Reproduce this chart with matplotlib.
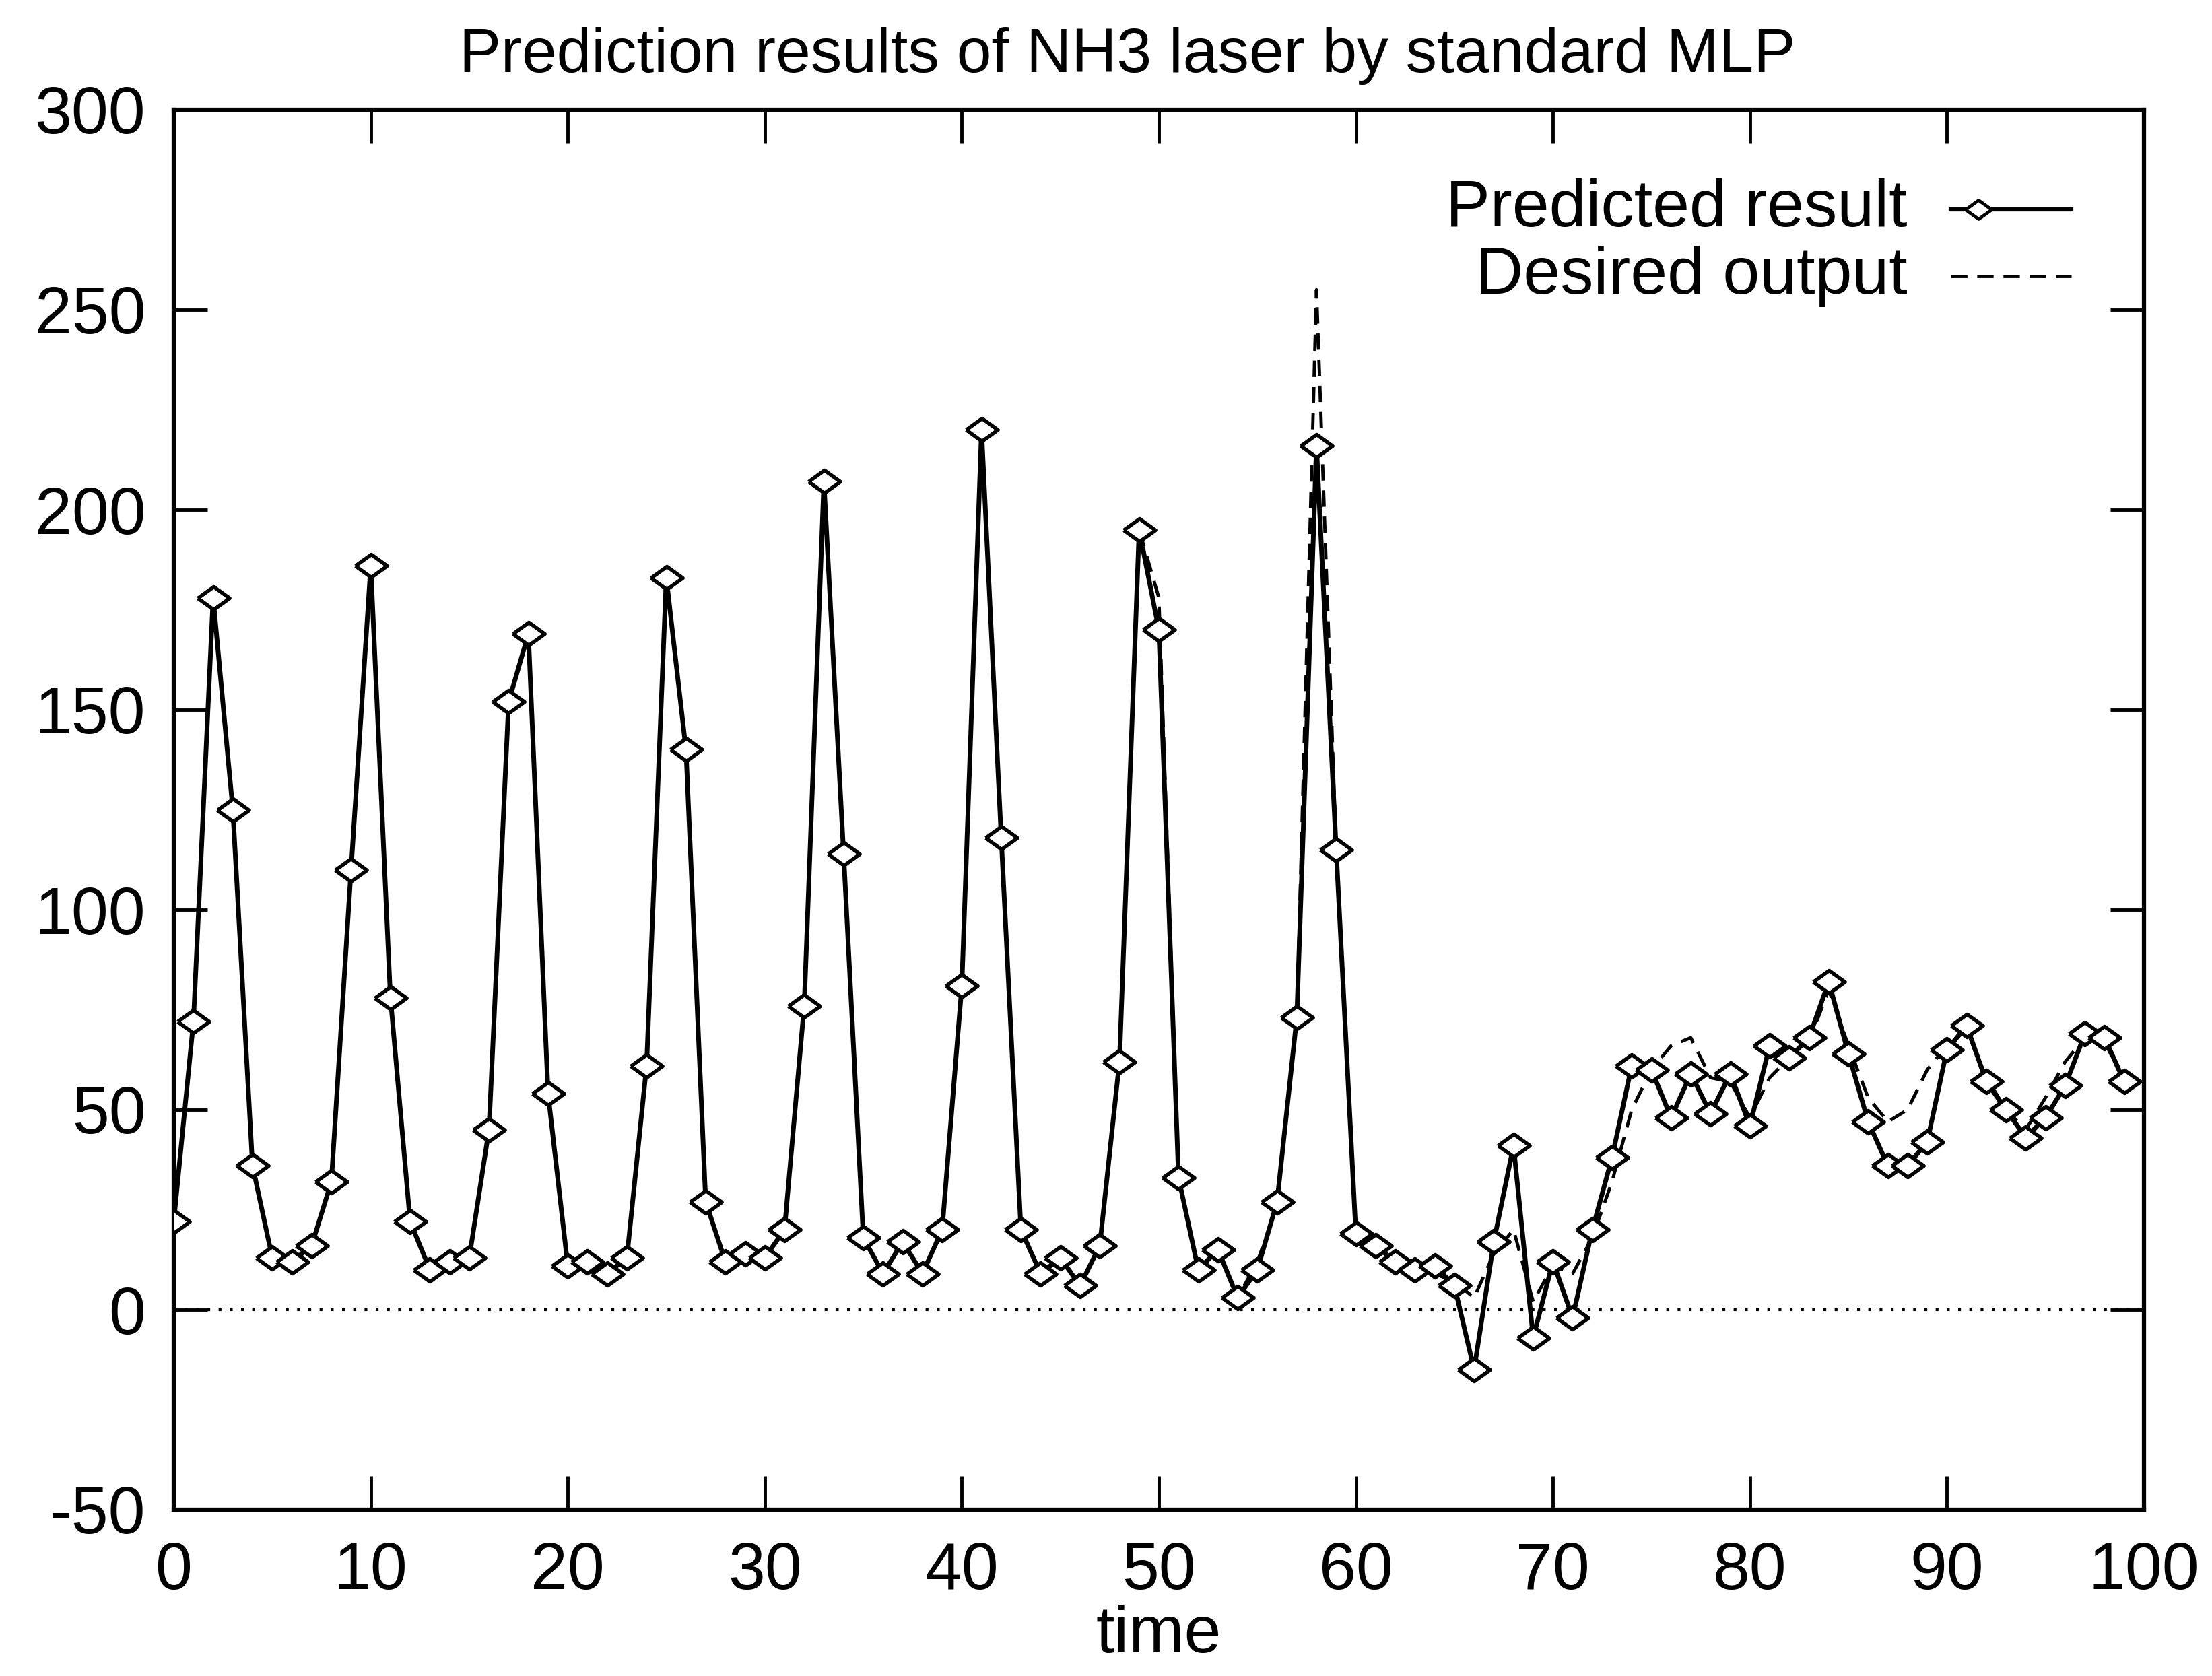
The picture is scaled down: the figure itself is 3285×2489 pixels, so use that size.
import matplotlib
matplotlib.use("Agg")
import matplotlib.pyplot as plt
import numpy as np

title = "Prediction results of NH3 laser by standard MLP"
xlabel = "time"
label_pred = "Predicted result"
label_des = "Desired output"
xticks = [0, 10, 20, 30, 40, 50, 60, 70, 80, 90, 100]
yticks = [-50, 0, 50, 100, 150, 200, 250, 300]

time = list(range(100))

predicted = [22, 72, 178, 125, 36, 13, 12, 16, 32, 110,
             186, 78, 22, 10, 12, 13, 45, 152, 169, 54,
             11, 12, 9, 13, 61, 183, 140, 27, 12, 14,
             13, 20, 76, 207, 114, 18, 9, 17, 9, 20,
             81, 220, 118, 20, 9, 13, 6, 16, 62, 195,
             170, 33, 10, 15, 3, 10, 27, 73, 216, 115,
             19, 16, 12, 10, 11, 6, -15, 17, 41, -7,
             12, -2, 20, 38, 61, 60, 48, 59, 49, 59,
             46, 66, 63, 68, 82, 64, 47, 36, 36, 42,
             65, 71, 57, 50, 43, 48, 56, 69, 68, 57]

desired = [22, 72, 178, 125, 36, 13, 12, 16, 32, 110,
           186, 78, 22, 10, 12, 13, 45, 152, 169, 54,
           11, 12, 9, 13, 61, 183, 140, 27, 12, 14,
           13, 20, 76, 207, 114, 18, 9, 17, 9, 20,
           81, 220, 118, 20, 9, 13, 6, 16, 62, 195,
           178, 33, 10, 15, 3, 12, 26, 73, 255, 115,
           18, 14, 11, 9, 9, 7, 3, 14, 20, 2,
           11, 9, 18, 32, 50, 60, 66, 68, 58, 57,
           48, 58, 63, 67, 80, 66, 53, 47, 50, 60,
           66, 70, 58, 50, 45, 53, 62, 68, 67, 57]

plt.rcParams['font.family'] = ['Liberation Sans', 'DejaVu Sans']
plt.rcParams['axes.unicode_minus'] = False

W, H, DPI = 3285, 2489, 100
fig = plt.figure(figsize=(W / DPI, H / DPI), dpi=DPI)
ax = fig.add_axes([258 / W, 1 - 2242 / H, (3184 - 258) / W, (2242 - 163) / H])

# zero axis (dotted)
ax.axhline(0, color='black', lw=3, linestyle=(0, (1, 3)), zorder=1)

# desired output (dashed)
ax.plot(time, desired, color='black', lw=3.5, linestyle=(0, (5, 3)), zorder=2)

# diamond marker slightly wider than tall
diamond = [(-1.0, 0.0), (0.0, 0.72), (1.0, 0.0), (0.0, -0.72), (-1.0, 0.0)]

ax.plot(time, predicted, color='black', lw=5, marker=diamond, markersize=34,
        markerfacecolor='white', markeredgecolor='black', markeredgewidth=4,
        zorder=3)

ax.set_xlim(0, 100)
ax.set_ylim(-50, 300)
ax.set_xticks(xticks)
ax.set_yticks(yticks)
ax.tick_params(direction='in', length=36, width=3.5, top=True, right=True,
               labelsize=71, pad=30)
ax.tick_params(axis='x', pad=34)
for s in ax.spines.values():
    s.set_linewidth(4.5)

ax.set_title(title, fontsize=67, pad=40, x=0.484)
ax.set_xlabel(xlabel, fontsize=71, labelpad=2)

# key (gnuplot style, top right)
tr = ax.transAxes
ax.text(0.880, 0.929, label_pred, transform=tr, ha='right', va='center', fontsize=71)
ax.text(0.880, 0.881, label_des, transform=tr, ha='right', va='center', fontsize=71)
ax.plot([0.902, 0.963], [0.929, 0.929], transform=tr, color='black', lw=4.5, zorder=4)
ax.plot([0.916], [0.929], transform=tr, marker=diamond, markersize=28,
        markerfacecolor='white', markeredgecolor='black', markeredgewidth=3.5, zorder=5)
ax.plot([0.902, 0.963], [0.881, 0.881], transform=tr, color='black', lw=3.5,
        linestyle=(0, (5, 3)), zorder=4)

fig.savefig("out.png", dpi=DPI)
